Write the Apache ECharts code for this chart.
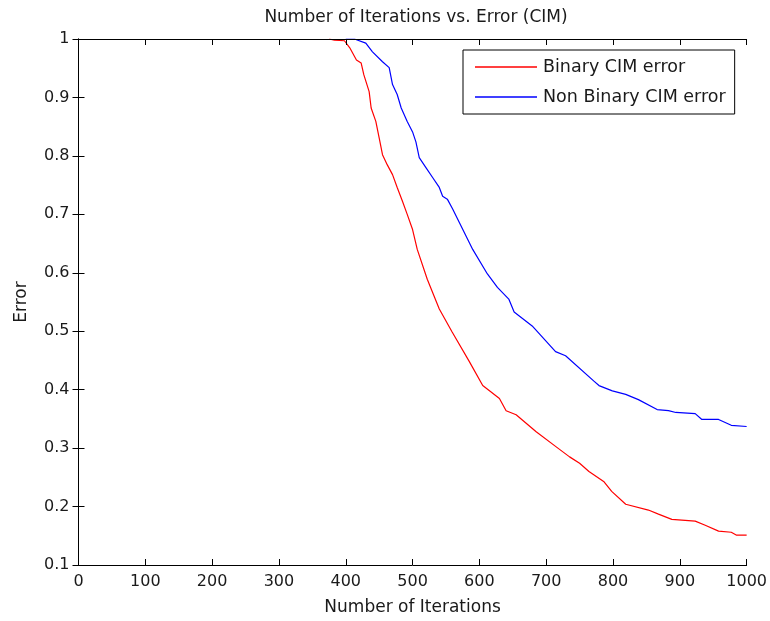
<!DOCTYPE html>
<html>
<head>
<meta charset="utf-8">
<script src="https://cdn.jsdelivr.net/npm/echarts@6/dist/echarts.min.js"></script>
<style>
html,body{margin:0;padding:0;background:#fff;}
#chart{width:770px;height:621px;}
</style>
</head>
<body>
<div id="chart"></div>
<script>
const titleText = 'Number of Iterations vs. Error (CIM)';
const xName = 'Number of Iterations';
const yName = 'Error';
const seriesNames = ['Binary CIM error', 'Non Binary CIM error'];

const binaryIter = [375, 383, 398, 406, 416, 423, 427, 435, 438, 445, 450, 455, 462, 470, 477, 485, 492, 500, 507, 522, 540, 559, 585, 605, 630, 640, 655, 685, 714, 735, 750, 764, 786, 798, 819, 853, 868, 888, 923, 938, 958, 977, 985, 1000];
const binaryErr = [1, 0.998, 0.997, 0.985, 0.964, 0.959, 0.939, 0.910, 0.882, 0.859, 0.831, 0.802, 0.785, 0.768, 0.746, 0.722, 0.700, 0.674, 0.640, 0.589, 0.538, 0.499, 0.448, 0.407, 0.385, 0.364, 0.357, 0.328, 0.303, 0.285, 0.274, 0.260, 0.243, 0.226, 0.204, 0.194, 0.187, 0.178, 0.175, 0.168, 0.158, 0.156, 0.151, 0.151];

const nonBinaryIter = [400, 413, 430, 440, 455, 465, 470, 477, 483, 492, 500, 505, 510, 520, 530, 540, 545, 552, 560, 570, 590, 612, 627, 644, 652, 679, 714, 729, 771, 779, 799, 819, 838, 866, 883, 894, 923, 933, 958, 977, 1000];
const nonBinaryErr = [1, 1, 0.993, 0.978, 0.961, 0.951, 0.922, 0.905, 0.882, 0.859, 0.841, 0.824, 0.797, 0.780, 0.763, 0.746, 0.731, 0.726, 0.709, 0.686, 0.640, 0.598, 0.575, 0.555, 0.533, 0.509, 0.465, 0.458, 0.415, 0.407, 0.398, 0.392, 0.383, 0.366, 0.364, 0.361, 0.359, 0.349, 0.349, 0.339, 0.337];

function zip(a, b) { return a.map((v, i) => [v, b[i]]); }

const FONT = 'DejaVu Sans';
const TXT = '#1a1a1a';
const chart = echarts.init(document.getElementById('chart'), null, {renderer: 'canvas'});

const axisCommonX = {
  type: 'value', min: 0, max: 1000, interval: 100, z: 10,
  axisLine: {show: true, lineStyle: {color: '#000', width: 1}},
  axisTick: {show: true, inside: true, length: 6, lineStyle: {color: '#000'}},
  splitLine: {show: false}
};
const axisCommonY = {
  type: 'value', min: 0.1, max: 1, interval: 0.1, z: 10,
  axisLine: {show: true, lineStyle: {color: '#000', width: 1}},
  axisTick: {show: true, inside: true, length: 6, lineStyle: {color: '#000'}},
  splitLine: {show: false}
};

chart.setOption({
  backgroundColor: '#fff',
  animation: false,
  title: {
    text: titleText, left: 411, top: 4, textAlign: 'center',
    textStyle: {fontFamily: FONT, fontSize: 17, fontWeight: 'normal', color: TXT}
  },
  grid: {left: 78.5, right: 21, top: 39, bottom: 54, containLabel: false},
  legend: {
    orient: 'vertical', left: 463, top: 50, z: 20,
    padding: [8, 9, 8, 12], itemGap: 12,
    itemWidth: 62, itemHeight: 1.5, icon: 'rect',
    borderColor: '#000', borderWidth: 1, backgroundColor: '#fff',
    textStyle: {fontFamily: FONT, fontSize: 17.5, color: TXT, padding: [0, 0, 0, 1]},
    data: seriesNames
  },
  xAxis: [
    Object.assign({}, axisCommonX, {
      position: 'bottom',
      name: xName, nameLocation: 'middle', nameGap: 34,
      nameTextStyle: {fontFamily: FONT, fontSize: 17, color: TXT},
      axisLabel: {fontFamily: FONT, fontSize: 16, color: TXT, margin: 9, formatter: v => String(v)}
    }),
    Object.assign({}, axisCommonX, {position: 'top', axisLabel: {show: false}})
  ],
  yAxis: [
    Object.assign({}, axisCommonY, {
      position: 'left',
      name: yName, nameLocation: 'middle', nameGap: 48, nameRotate: 90,
      nameTextStyle: {fontFamily: FONT, fontSize: 17, color: TXT},
      axisLabel: {fontFamily: FONT, fontSize: 16, color: TXT, margin: 9}
    }),
    Object.assign({}, axisCommonY, {position: 'right', axisLabel: {show: false}})
  ],
  series: [
    {
      name: seriesNames[0], type: 'line', symbol: 'none',
      xAxisIndex: 0, yAxisIndex: 0,
      lineStyle: {color: '#ff0000', width: 1.2}, itemStyle: {color: '#ff0000'},
      data: zip(binaryIter, binaryErr)
    },
    {
      name: seriesNames[1], type: 'line', symbol: 'none',
      xAxisIndex: 0, yAxisIndex: 0,
      lineStyle: {color: '#0000ff', width: 1.2}, itemStyle: {color: '#0000ff'},
      data: zip(nonBinaryIter, nonBinaryErr)
    }
  ]
});
</script>
</body>
</html>
